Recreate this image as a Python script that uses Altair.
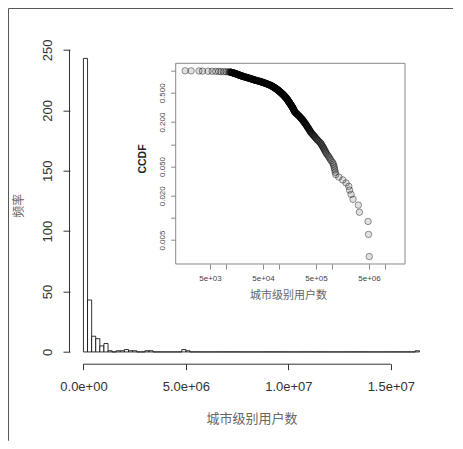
import altair as alt
import numpy as np
import pandas as pd

users_lt5k = [1.7, 2.2, 3.1, 3.6, 4.6]
users_5k_12k = [5.5, 6.4, 7.3, 8.0, 9.0, 10.0, 10.9, 11.6]
users_12k_21k = [12.0, 12.2, 12.4, 12.6, 12.8, 13.0, 13.2, 13.4, 13.6, 13.8,
                 14.0, 14.2, 14.4, 14.6, 14.8, 15.0, 15.2, 15.4, 15.6, 15.8,
                 16.0, 16.2, 16.4, 16.6, 16.8, 17.0, 17.2, 17.4, 17.6, 17.8,
                 18.0, 18.3, 18.6, 18.9, 19.2, 19.5, 19.8, 20.1, 20.3, 20.5,
                 20.7, 20.9]
users_21k_38k = [21.2, 21.6, 22.0, 22.5, 22.9, 23.3, 23.8, 24.2, 24.6, 25.1,
                 25.5, 26.0, 26.4, 26.9, 27.3, 27.8, 28.3, 28.7, 29.2, 29.7,
                 30.2, 30.7, 31.2, 31.7, 32.2, 32.7, 33.3, 33.8, 34.4, 35.0,
                 35.7, 36.4, 37.2]
users_38k_68k = [38.0, 38.9, 39.7, 40.6, 41.4, 42.3, 43.1, 44.0, 44.8, 45.7,
                 46.5, 47.4, 48.2, 49.1, 50.0, 50.9, 51.8, 52.7, 53.6, 54.5,
                 55.4, 56.3, 57.3, 58.2, 59.2, 60.1, 61.1, 62.0, 63.0, 64.0,
                 65.0, 66.0, 67.1]
users_68k_104k = [68.4, 69.2, 70.1, 71.0, 71.9, 72.8, 73.6, 74.5, 75.4, 76.3,
                  77.2, 78.1, 79.0, 79.9, 80.8, 81.7, 82.6, 83.5, 84.4, 85.3,
                  86.2, 87.1, 88.0, 88.9, 89.8, 90.7, 91.6, 92.5, 93.4, 94.3,
                  95.2, 96.1, 97.0, 97.9, 98.8, 99.7, 100.6, 101.5, 102.4, 103.3]
users_104k_161k = [104.5, 105.4, 106.6, 107.5, 108.7, 109.6, 110.8, 111.7, 112.9, 113.8,
                   115.0, 116.0, 117.1, 118.1, 119.2, 120.3, 121.3, 122.4, 123.5, 124.5,
                   125.6, 126.7, 127.7, 128.8, 129.9, 130.9, 132.0, 133.1, 134.1, 135.2,
                   136.3, 137.3, 138.4, 139.5, 140.5, 141.6, 142.7, 143.8, 144.8, 145.9,
                   147.0, 148.1, 149.1, 150.2, 151.3, 152.4, 153.5, 154.6, 155.7, 156.8,
                   157.9, 159.0, 160.2]
users_161k_200k = [161.5, 162.8, 164.2, 165.5, 166.9, 168.2, 169.6, 170.9, 172.3, 173.6,
                   175.0, 176.3, 177.7, 179.0, 180.4, 181.8, 183.1, 184.5, 185.9, 187.2,
                   188.6, 190.0, 191.3, 192.7, 194.1, 195.5, 196.8, 198.2, 199.5]
users_200k_400k = [202, 206, 209, 213, 217, 220, 224, 228, 232, 236, 240, 244, 248,
                   252, 256, 260, 265, 269, 273, 278, 282, 287, 291, 295, 299,
                   304, 309, 314, 319, 324, 329, 334, 339, 344, 349,
                   355, 361, 367, 373, 379, 385, 391, 397]
users_400k_600k = [408, 418, 428, 440, 452, 465, 478, 492, 507, 523, 540, 560, 582]
users_600k_800k = [608, 622, 638, 655, 672, 690, 708, 727, 746, 766, 788]
users_800k_1m = [825, 860, 895, 930, 970]
users_1m_1_2m = [1030, 1060, 1090, 1110, 1130, 1155, 1180]
users_gt_1_2m = [1350, 1600, 1850, 2080, 2150, 2300, 2500, 3150, 3300,
                 4800, 4900, 5050, 16300]

hist_bin_width = 200000
hist_max = 16400000
x_ticks = [0, 5000000, 10000000, 15000000]
x_tick_labels = ["0.0e+00", "5.0e+06", "1.0e+07", "1.5e+07"]
y_ticks = [0, 50, 100, 150, 200, 250]
inset_x_ticks = [5e3, 1e4, 5e4, 1e5, 5e5, 1e6, 5e6, 1e7]
inset_x_labels = ["5e+03", "", "5e+04", "", "5e+05", "", "5e+06", ""]
inset_y_ticks = [0.005, 0.01, 0.02, 0.05, 0.1, 0.2, 0.5, 1]
inset_y_labels = ["0.005", "", "0.020", "0.050", "", "0.200", "0.500", ""]

# ---- derived tables ----
all_k = (users_lt5k + users_5k_12k + users_12k_21k + users_21k_38k + users_38k_68k
         + users_68k_104k + users_104k_161k + users_161k_200k + users_200k_400k
         + users_400k_600k + users_600k_800k + users_800k_1m + users_1m_1_2m + users_gt_1_2m)
values = np.sort(np.array(all_k) * 1000.0)
n = len(values)

edges = np.arange(0, hist_max + 1, hist_bin_width)
counts, _ = np.histogram(values, bins=edges)
hist_df = pd.DataFrame({"start": edges[:-1], "end": edges[1:], "count": counts, "base": 0})

ccdf = (n - np.arange(1, n + 1)) / n
ccdf_df = pd.DataFrame({"users": values, "ccdf": ccdf})
ccdf_df = ccdf_df[ccdf_df["ccdf"] > 0]


def mapping_expr(ticks, labels):
    expr = "''"
    for t, l in zip(ticks, labels):
        expr = f"datum.value == {t!r} ? '{l}' : ({expr})"
    return expr


W, H = 363, 317
PAD = {"left": 62, "top": 38.7, "right": 20, "bottom": 77}

XDOM = [-656000, 17060000]
YDOM = [-9.72, 252.7]


def xs():
    return alt.Scale(domain=XDOM, nice=False, zero=False)


def ys():
    return alt.Scale(domain=YDOM, nice=False, zero=False)


bars = alt.Chart(hist_df).mark_rect(fill="white", stroke="black", strokeWidth=0.8).encode(
    x=alt.X("start:Q", scale=xs(), axis=alt.Axis(
        orient="bottom", values=x_ticks, labelExpr=mapping_expr(x_ticks, x_tick_labels),
        domain=False, grid=False,
        tickSize=6, tickColor="#333", tickWidth=1, labelFont="Liberation Sans", labelFontSize=13,
        labelColor="#333", labelPadding=11, labelFlush=False, labelOverlap=False,
        title="城市级别用户数", titleFont="Noto Sans CJK SC", titleFontSize=13, titleColor="#666",
        titleFontWeight="normal", titleX=W / 2, titleY=54.6, titleBaseline="middle", titleAlign="center")),
    x2="end:Q",
    y=alt.Y("count:Q", scale=ys(), axis=alt.Axis(
        orient="left", values=y_ticks, domain=False, grid=False, tickSize=7, tickColor="#333", tickWidth=1,
        labelAngle=270, labelAlign="center", labelBaseline="bottom", labelPadding=9,
        labelFont="Liberation Sans", labelFontSize=13, labelColor="#333", labelOverlap=False, labelFlush=False,
        title="频率", titleFont="Noto Sans CJK SC", titleFontSize=12, titleColor="#666",
        titleFontWeight="normal", titleAngle=270, titleX=-45, titleY=H / 2,
        titleBaseline="bottom", titleAlign="center")),
    y2="base:Q",
)

xaxis_df = pd.DataFrame({"a": [x_ticks[0]], "b": [x_ticks[-1]]})
yaxis_df = pd.DataFrame({"a": [y_ticks[0]], "b": [y_ticks[-1]]})
xline = alt.Chart(xaxis_df).mark_rule(color="#333", strokeWidth=1).encode(
    x=alt.X("a:Q", scale=xs(), axis=None), x2="b:Q", y=alt.value(H + 0.5))
yline = alt.Chart(yaxis_df).mark_rule(color="#333", strokeWidth=1).encode(
    y=alt.Y("a:Q", scale=ys(), axis=None), y2="b:Q", x=alt.value(-0.5))

frame_df = pd.DataFrame({"k": [0]})
frame_top = alt.Chart(frame_df).mark_rule(color="#555", strokeWidth=1).encode(
    x=alt.value(-PAD["left"] + 0.5), x2=alt.value(W + PAD["right"]), y=alt.value(-PAD["top"] + 0.5))
frame_left = alt.Chart(frame_df).mark_rule(color="#555", strokeWidth=1).encode(
    x=alt.value(-PAD["left"] + 0.5), y=alt.value(-PAD["top"] + 0.5), y2=alt.value(H + PAD["bottom"]))

# ---- inset CCDF ----
IX0, IX1, IY0, IY1 = 105.7, 335.0, 16.6, 217.3
ixs = alt.Scale(type="log", domain=[1127, 2.39e7], range=[IX0, IX1], nice=False)
iys = alt.Scale(type="log", domain=[0.002366, 1.26], range=[IY1, IY0], nice=False)

box = alt.Chart(frame_df).mark_rect(fill="white", stroke="#888", strokeWidth=1).encode(
    x=alt.value(IX0), x2=alt.value(IX1), y=alt.value(IY0), y2=alt.value(IY1))

pts = alt.Chart(ccdf_df).mark_point(
    shape="circle", filled=True, fill="black", fillOpacity=0.12, stroke="black",
    strokeOpacity=0.4, strokeWidth=1, size=42, opacity=1).encode(
    x=alt.X("users:Q", scale=ixs, axis=alt.Axis(
        orient="bottom", offset=-(H - IY1), values=inset_x_ticks,
        labelExpr=mapping_expr(inset_x_ticks, inset_x_labels), domain=False, grid=False,
        tickSize=5, tickColor="#888", tickWidth=1, labelFont="Liberation Sans", labelFontSize=8,
        labelColor="#444", labelPadding=6, labelOverlap=False, labelFlush=False,
        title="城市级别用户数", titleFont="Noto Sans CJK SC", titleFontSize=11, titleColor="#666",
        titleFontWeight="normal", titleX=218, titleY=31.7, titleBaseline="middle", titleAlign="center")),
    y=alt.Y("ccdf:Q", scale=iys, axis=alt.Axis(
        orient="left", offset=-IX0, values=inset_y_ticks,
        labelExpr=mapping_expr(inset_y_ticks, inset_y_labels), domain=False, grid=False,
        tickSize=5, tickColor="#888", tickWidth=1, labelAngle=270, labelAlign="center",
        labelBaseline="bottom", labelPadding=4.4, labelFont="Liberation Sans", labelFontSize=8,
        labelColor="#444", labelOverlap=False, labelFlush=False,
        title="CCDF", titleFont="Liberation Sans", titleFontSize=10.5, titleFontWeight="bold",
        titleColor="#222", titleAngle=270, titleX=-28, titleY=111.8, titleBaseline="bottom",
        titleAlign="center")),
)

chart = alt.layer(frame_top, frame_left, bars, xline, yline, box, pts).resolve_scale(
    x="independent", y="independent"
).properties(
    width=W, height=H, padding=PAD, autosize=alt.AutoSizeParams(type="none"),
    background="white",
).configure_view(stroke=None)

chart.save("out.html", embed_options={"renderer": "svg", "actions": False})
